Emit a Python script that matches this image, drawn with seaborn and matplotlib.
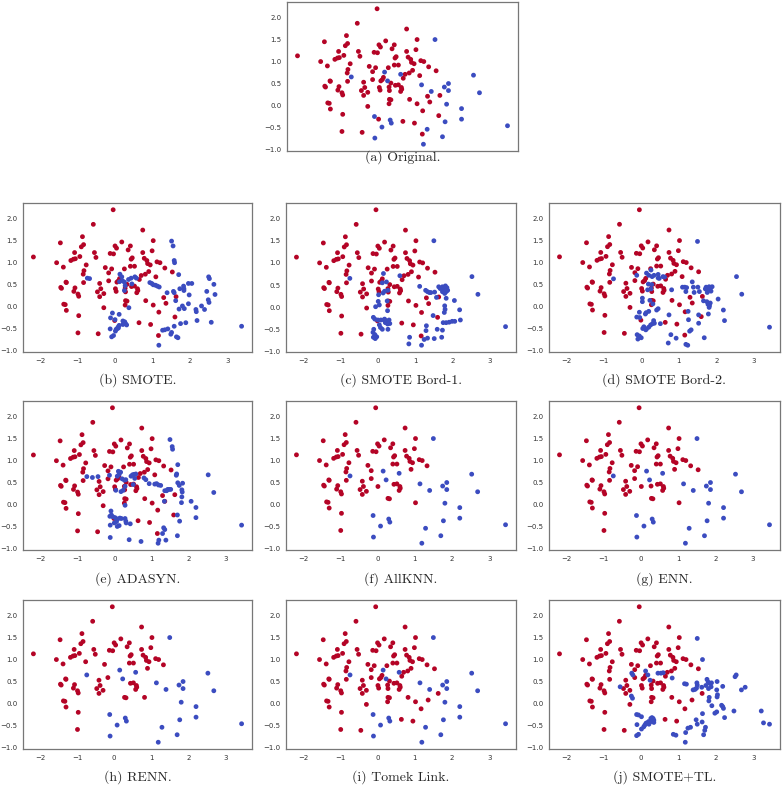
import matplotlib
matplotlib.use("Agg")
import matplotlib.pyplot as plt
import seaborn as sns
import pandas as pd

sns.set_style("white")

# ---------------- data ----------------
RED_X = [-2.18, -0.05, -0.58, 0.74, -0.87, -1.46, 1.02, 0.18, -0.84, -0.90,
         0.00, 0.04, 0.41, 0.35, -1.08, -0.55, -0.13, -0.04, 0.74, 0.99,
         -0.94, -0.51, -1.06, -1.11, -1.18, 0.46, 0.43, 0.78, 0.85, -1.56,
         0.87, 0.94, 1.12, 1.20, -0.77, -1.38, -0.26, -0.09, 0.25, 0.41,
         0.52, 1.33, -0.83, 0.90, -0.17, -0.85, 0.81, 0.70, 1.53, 0.65,
         0.12, -0.17, -1.31, -1.30, -0.84, -0.41, 0.09, 0.05, 0.32, -1.45,
         -1.43, -1.07, -0.38, 0.01, 0.27, 0.44, 0.52, 0.60, 0.61, -1.10,
         -0.47, -0.30, 0.03, 0.28, 0.58, -0.99, -0.97, -0.41, 1.63, 0.28,
         0.32, 0.82, 1.36, -1.37, -1.33, 0.27, 1.02, -0.30, -1.30, 1.17,
         -0.97, 0.64, 0.95, -0.99, -0.45, 1.09, 1.30, 1.60, 1.16, -0.01]
RED_Y = [1.13, 2.20, 1.87, 1.74, 1.59, 1.45, 1.50, 1.47, 1.41, 1.36,
         1.38, 1.33, 1.38, 1.29, 1.23, 1.23, 1.21, 1.20, 1.23, 1.27,
         1.14, 1.12, 1.09, 1.08, 1.05, 1.11, 1.08, 1.10, 1.05, 1.00,
         0.98, 0.95, 1.02, 1.00, 0.95, 0.90, 0.89, 0.86, 0.86, 0.92,
         0.92, 0.88, 0.82, 0.80, 0.77, 0.74, 0.74, 0.71, 0.79, 0.62,
         0.64, 0.59, 0.56, 0.55, 0.55, 0.53, 0.59, 0.56, 0.51, 0.44,
         0.42, 0.43, 0.41, 0.41, 0.42, 0.46, 0.47, 0.41, 0.37, 0.35,
         0.34, 0.30, 0.35, 0.34, 0.32, 0.29, 0.24, 0.23, 0.23, 0.14,
         0.13, 0.14, 0.08, 0.06, 0.05, 0.04, 0.04, -0.02, -0.08, -0.12,
         -0.20, -0.36, -0.40, -0.59, -0.61, 0.68, 0.21, -0.23, -0.65, -0.31]

BLUE_X = [1.50, 2.53, 2.69, 3.44, -0.74, 0.15, 0.58, 0.23, 1.14, 1.40,
          1.75, 1.86, 1.86, 1.81, 2.21, 2.21, 1.77, 1.70, 1.29, 1.19,
          -0.12, 0.08, 0.30, 0.33, -0.11]
BLUE_Y = [1.50, 0.69, 0.29, -0.46, 0.65, 0.76, 0.71, 0.56, 0.47, 0.32,
          0.42, 0.50, 0.34, 0.03, -0.07, -0.31, -0.37, -0.71, -0.54, -0.88,
          -0.25, -0.49, -0.33, -0.40, -0.74]

# red samples removed by each undersampling method (indices into RED_X/RED_Y)
REMOVED_TOMEK = [95, 96, 97, 98, 99]
REMOVED_ALLKNN = [37, 38, 46, 47, 48, 49, 50, 56, 57, 58, 64, 72, 73, 78, 81, 82,
                  85, 87, 89, 91, 92, 94, 95, 96, 97, 98, 99]
REMOVED_ENN = [38, 46, 47, 49, 50, 56, 57, 58, 72, 73, 78, 81, 82, 85, 87, 89,
               91, 92, 94, 95, 96, 97, 98, 99]
REMOVED_RENN = [37, 38, 42, 44, 45, 46, 47, 48, 49, 50, 54, 56, 57, 58, 63, 64,
                72, 73, 78, 82, 85, 86, 87, 89, 91, 92, 94, 95, 96, 97, 98, 99]

# minority samples after oversampling
SMOTE_BLUE = [(1.51, 1.49), (1.55, 1.38), (1.58, 1.05), (1.59, 1.00), (1.70, 0.73),
              (2.50, 0.68), (2.52, 0.64), (2.64, 0.51), (2.67, 0.28), (3.38, -0.44),
              (-0.74, 0.65), (-0.68, 0.64), (0.13, 0.74), (0.18, 0.68), (0.20, 0.59),
              (0.12, 0.57), (0.25, 0.56), (0.36, 0.62), (0.43, 0.65), (0.53, 0.68),
              (0.57, 0.65), (0.45, 0.52), (0.27, 0.48), (0.25, 0.37), (0.37, -0.02),
              (0.93, 0.55), (0.98, 0.53), (1.02, 0.50), (1.08, 0.49), (1.13, 0.47),
              (1.18, 0.45), (1.39, 0.32), (1.56, 0.35), (1.58, 0.32), (1.62, 0.14),
              (1.73, 0.41), (1.83, 0.47), (1.84, 0.41), (1.84, 0.37), (1.96, 0.53),
              (2.05, 0.53), (1.98, 0.27), (1.96, 0.07), (1.80, 0.02), (1.85, -0.04),
              (1.71, -0.05), (2.16, -0.06), (2.17, -0.11), (2.31, 0.02), (2.39, -0.06),
              (2.45, 0.35), (2.49, 0.16), (2.51, 0.10), (2.19, -0.31), (2.57, -0.35),
              (1.89, -0.36), (1.75, -0.38), (1.58, -0.44), (1.51, -0.58), (1.64, -0.68),
              (1.68, -0.70), (1.41, -0.50), (1.27, -0.53), (1.33, -0.52), (1.17, -0.87),
              (1.49, -0.62), (-0.07, -0.14), (-0.12, -0.25), (0.00, -0.29), (0.11, -0.17),
              (-0.13, -0.50), (-0.09, -0.68), (-0.04, -0.65), (0.01, -0.55), (0.05, -0.50),
              (0.08, -0.46), (0.11, -0.42), (0.21, -0.32), (0.26, -0.34), (0.28, -0.38),
              (0.21, -0.40), (0.31, -0.41), (0.24, -0.37), (0.03, -0.51), (0.09, -0.48)]

BORD1_BLUE = [(1.50, 1.50), (2.52, 0.69), (2.68, 0.29), (3.42, -0.44), (-0.75, 0.65),
              (0.15, 0.76), (0.12, 0.55), (0.23, 0.57), (0.27, 0.38), (0.18, 0.36),
              (0.14, 0.32), (0.02, 0.28), (0.01, 0.13), (0.25, 0.14), (-0.06, 0.01),
              (0.04, 0.05), (0.26, -0.08), (0.59, 0.71), (1.12, 0.47), (1.28, 0.38),
              (1.33, 0.35), (1.38, 0.33), (1.42, 0.33), (1.52, 0.34), (1.63, 0.46),
              (1.67, 0.42), (1.73, 0.46), (1.76, 0.42), (1.81, 0.48), (1.85, 0.44),
              (1.87, 0.38), (1.83, 0.35), (1.73, 0.35), (1.79, 0.31), (1.57, 0.22),
              (1.83, 0.20), (2.05, 0.15), (1.79, 0.03), (1.80, -0.05), (1.78, -0.12),
              (2.19, -0.06), (2.21, -0.29), (2.06, -0.32), (1.99, -0.32), (1.91, -0.34),
              (1.83, -0.35), (1.75, -0.35), (1.73, -0.52), (1.59, -0.50), (1.71, -0.68),
              (1.51, -0.71), (1.48, -0.19), (1.30, -0.42), (1.29, -0.53), (1.33, -0.70),
              (1.24, -0.73), (1.17, -0.86), (0.85, -0.68), (0.83, -0.83), (-0.12, -0.23),
              (-0.08, -0.27), (0.00, -0.29), (0.08, -0.29), (0.16, -0.29), (0.23, -0.31),
              (0.30, -0.29), (0.20, -0.35), (0.26, -0.38), (0.32, -0.37), (0.04, -0.40),
              (0.07, -0.46), (0.12, -0.50), (-0.11, -0.50), (-0.13, -0.57), (-0.08, -0.62),
              (-0.12, -0.68), (-0.07, -0.71), (-0.03, -0.67), (0.27, -0.50), (0.18, -0.27)]

BORD2_BLUE = [(1.50, 1.48), (2.54, 0.68), (2.68, 0.28), (3.42, -0.47), (-0.74, 0.63),
              (-0.12, 0.71), (0.14, 0.76), (0.26, 0.83), (0.20, 0.71), (0.29, 0.68),
              (0.34, 0.71), (0.45, 0.65), (0.48, 0.64), (0.58, 0.68), (0.62, 0.67),
              (0.45, 0.73), (0.19, 0.51), (0.28, 0.50), (0.26, 0.40), (0.17, 0.38),
              (0.03, 0.19), (0.03, 0.11), (0.23, 0.14), (0.31, 0.06), (0.41, -0.08),
              (0.45, -0.05), (0.20, -0.11), (0.13, -0.14), (0.11, -0.17), (-0.05, -0.13),
              (-0.04, -0.25), (-0.12, -0.24), (0.33, -0.32), (0.30, -0.39), (0.35, -0.38),
              (0.51, -0.39), (0.07, -0.46), (0.04, -0.50), (0.14, -0.51), (0.20, -0.47),
              (0.25, -0.42), (-0.11, -0.64), (-0.05, -0.67), (-0.09, -0.74), (0.00, -0.71),
              (0.12, -0.53), (0.81, 0.38), (0.74, -0.19), (0.72, -0.83), (0.79, -0.64),
              (0.93, -0.72), (1.19, -0.86), (1.24, -0.88), (1.36, 0.56), (1.10, 0.44),
              (1.16, 0.44), (1.21, 0.43), (1.19, 0.34), (1.39, 0.44), (1.41, 0.32),
              (1.51, 0.44), (1.55, 0.34), (1.26, -0.30), (1.25, -0.11), (1.33, -0.53),
              (1.29, -0.56), (1.53, -0.19), (1.53, -0.38), (1.68, -0.71), (1.71, 0.40),
              (1.73, 0.44), (1.76, 0.38), (1.81, 0.45), (1.84, 0.41), (1.86, 0.35),
              (1.76, 0.32), (1.89, 0.45), (1.66, 0.13), (1.75, 0.11), (1.78, 0.05),
              (1.84, 0.08), (1.82, 0.02), (1.81, -0.02), (2.05, 0.17), (2.19, -0.08),
              (2.22, -0.32), (1.79, -0.17)]

ADASYN_BLUE = [(1.50, 1.48), (1.56, 1.32), (1.57, 1.26), (1.71, 0.91), (1.67, 0.67),
               (2.53, 0.68), (2.68, 0.28), (3.43, -0.46), (-0.74, 0.64), (-0.59, 0.62),
               (-0.44, 0.64), (-0.13, 0.67), (0.11, 0.76), (0.17, 0.74), (0.13, 0.69),
               (0.08, 0.65), (0.21, 0.59), (0.27, 0.56), (0.31, 0.57), (0.45, 0.65),
               (0.49, 0.68), (0.53, 0.69), (0.58, 0.70), (0.55, 0.60), (0.51, 0.46),
               (0.80, 0.61), (0.85, 0.57), (0.94, 0.48), (1.09, 0.47), (1.14, 0.48),
               (1.19, 0.45), (1.25, 0.44), (0.04, 0.33), (0.18, 0.30), (0.24, 0.33),
               (0.29, 0.42), (0.29, -0.01), (1.36, 0.32), (1.41, 0.32), (1.44, 0.35),
               (1.48, 0.35), (1.52, 0.35), (1.35, 0.08), (1.68, 0.70), (1.71, 0.50),
               (1.75, 0.44), (1.84, 0.49), (1.82, 0.34), (1.83, 0.29), (1.82, 0.18),
               (1.81, 0.05), (2.07, 0.08), (2.20, -0.06), (2.20, -0.29), (1.70, -0.23),
               (1.76, -0.37), (1.70, -0.70), (1.33, -0.52), (1.36, -0.56), (1.30, -0.65),
               (1.39, -0.80), (1.20, -0.80), (1.18, -0.87), (0.72, -0.83), (0.40, -0.79),
               (-0.11, -0.74), (-0.09, -0.14), (-0.08, -0.23), (-0.12, -0.26), (-0.04, -0.27),
               (0.02, -0.29), (0.09, -0.32), (0.15, -0.30), (0.19, -0.31), (0.06, -0.38),
               (0.00, -0.41), (-0.11, -0.46), (0.08, -0.49), (0.13, -0.47), (0.29, -0.31),
               (0.31, -0.37), (0.32, -0.41), (0.43, -0.43)]

SMOTETL_BLUE = [(1.50, 1.48), (1.64, 1.00), (2.54, 0.65), (2.51, 0.61), (2.68, 0.31),
                (2.78, 0.37), (3.21, -0.17), (3.27, -0.44), (3.43, -0.47), (2.48, -0.17),
                (-0.56, 0.38), (-0.26, 0.17), (-0.23, 0.12), (-0.25, 0.69), (-0.22, 0.65),
                (0.12, 0.74), (0.18, 0.65), (0.24, 0.53), (0.45, 0.69), (0.53, 0.69),
                (0.59, 0.70), (0.83, 0.58), (1.16, 0.45), (1.21, 0.44), (1.49, 0.47),
                (1.50, 0.42), (1.39, 0.31), (1.44, 0.32), (1.48, 0.35), (1.62, 0.37),
                (1.76, 0.55), (1.79, 0.49), (1.83, 0.46), (1.88, 0.47), (1.87, 0.38),
                (1.80, 0.34), (1.73, 0.41), (2.03, 0.50), (2.02, 0.31), (2.18, 0.39),
                (2.04, 0.20), (2.03, 0.15), (1.82, 0.14), (1.81, 0.06), (1.89, -0.05),
                (1.97, -0.22), (2.02, -0.19), (2.15, -0.04), (2.18, -0.07), (2.20, -0.11),
                (2.23, -0.32), (1.64, -0.23), (1.63, -0.42), (1.47, -0.37), (1.50, -0.47),
                (1.72, -0.54), (1.70, -0.61), (1.67, -0.71), (1.32, -0.54), (1.25, -0.56),
                (1.19, -0.66), (1.18, -0.88), (0.86, -0.70), (0.93, -0.72), (-0.12, -0.25),
                (-0.07, -0.26), (0.01, -0.30), (-0.11, -0.48), (0.01, -0.58), (0.07, -0.53),
                (0.10, -0.49), (0.13, -0.45), (0.15, -0.44), (0.20, -0.41), (0.26, -0.34),
                (0.29, -0.32), (0.32, -0.34), (0.34, -0.38), (0.34, -0.43), (0.27, -0.41),
                (0.21, -0.47), (-0.12, -0.73), (-0.07, -0.70)]

CAPTIONS = ["(a) Original.", "(b) SMOTE.", "(c) SMOTE Bord-1.", "(d) SMOTE Bord-2.",
            "(e) ADASYN.", "(f) AllKNN.", "(g) ENN.", "(h) RENN.",
            "(i) Tomek Link.", "(j) SMOTE+TL."]
X_TICKS = [-2, -1, 0, 1, 2, 3]
Y_TICKS = [-1.0, -0.5, 0.0, 0.5, 1.0, 1.5, 2.0]

BLUE = "#3b4cc0"
RED = "#b40426"


def red_subset(removed):
    keep = [i for i in range(len(RED_X)) if i not in set(removed)]
    return [RED_X[i] for i in keep], [RED_Y[i] for i in keep]


def make_frame(rx, ry, bx, by):
    return pd.DataFrame({
        "x": list(rx) + list(bx),
        "y": list(ry) + list(by),
        "cls": ["maj"] * len(rx) + ["min"] * len(bx),
    })


def split(pairs):
    return [p[0] for p in pairs], [p[1] for p in pairs]


panels = []
panels.append(make_frame(RED_X, RED_Y, BLUE_X, BLUE_Y))
for pts in (SMOTE_BLUE, BORD1_BLUE, BORD2_BLUE, ADASYN_BLUE):
    panels.append(make_frame(RED_X, RED_Y, *split(pts)))
for rem in (REMOVED_ALLKNN, REMOVED_ENN, REMOVED_RENN, REMOVED_TOMEK):
    panels.append(make_frame(*red_subset(rem), BLUE_X, BLUE_Y))
panels.append(make_frame(*red_subset(REMOVED_TOMEK), *split(SMOTETL_BLUE)))

# ---------------- layout (pixels) ----------------
W, H = 783, 791
fig = plt.figure(figsize=(W / 100, H / 100), dpi=100)

# (left, right, top, bottom) in pixels
boxes = [(287, 518, 2, 151)]
cols = [(23, 252), (286, 516), (549, 780)]
rows = [(203, 352), (401, 550), (600, 749)]
for r in rows:
    for c in cols:
        boxes.append((c[0], c[1], r[0], r[1]))
boxes = boxes[:10]
cap_y = [157, 380, 380, 380, 579, 579, 579, 777, 777, 777]

for k, (df, (l, rr, t, b)) in enumerate(zip(panels, boxes)):
    ax = fig.add_axes([l / W, 1 - b / H, (rr - l) / W, (b - t) / H])
    sns.scatterplot(data=df, x="x", y="y", hue="cls",
                    palette={"maj": RED, "min": BLUE}, hue_order=["maj", "min"],
                    s=12, linewidth=0, legend=False, ax=ax)
    ax.set_xlabel("")
    ax.set_ylabel("")
    ax.set_xticks(X_TICKS)
    ax.set_yticks(Y_TICKS)
    if k == 0:
        # the top panel's x tick labels are hidden beneath its caption
        ax.set_xticklabels([])
    else:
        ax.set_xticklabels([f"{v:g}".replace("-", "\u2212") for v in X_TICKS])
    ax.set_yticklabels([f"{v:.1f}".replace("-", "\u2212") for v in Y_TICKS])
    ax.tick_params(axis="both", labelsize=5, length=2.5, width=0.6,
                   colors="#333333", pad=1.5, direction="out")
    for sp in ax.spines.values():
        sp.set_color("#777777")
        sp.set_linewidth(0.9)
    cx = (l + rr) / 2
    fig.text(cx / W, 1 - cap_y[k] / H, CAPTIONS[k], ha="center", va="center",
             fontsize=10, family="cmr10")

fig.savefig("out.png", dpi=100)
